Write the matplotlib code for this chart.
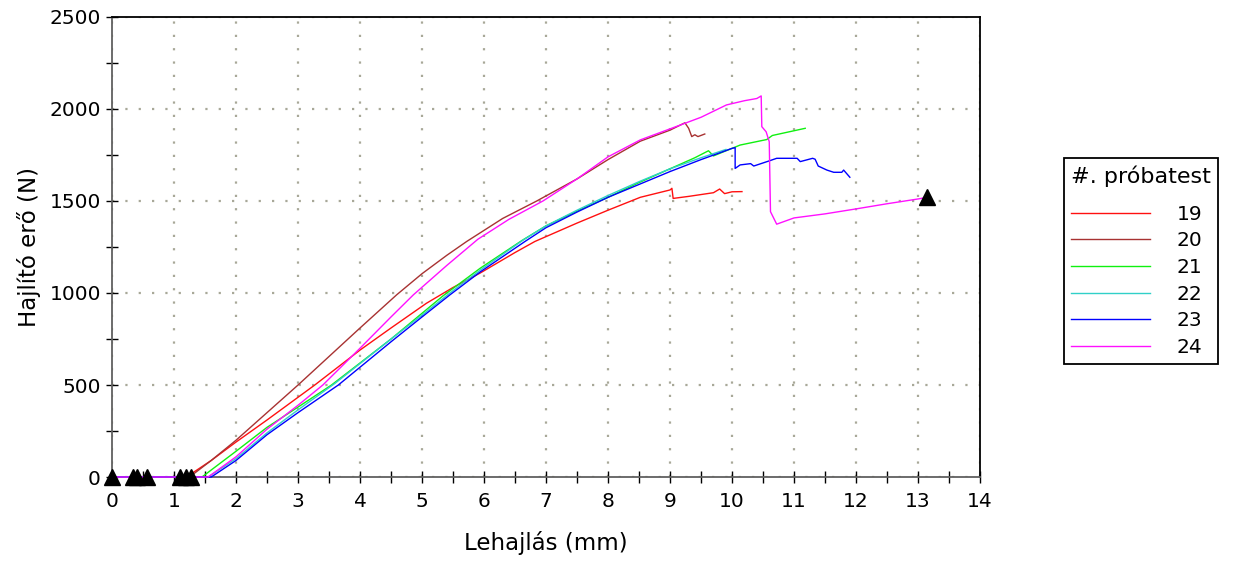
import matplotlib
matplotlib.use("Agg")
import matplotlib.pyplot as plt
from matplotlib.ticker import MultipleLocator

# próbatest sorszámok és színek
labels = ["19", "20", "21", "22", "23", "24"]
colors = ["#ff1010", "#a83232", "#10f010", "#30d0c8", "#0000ff", "#ff10ff"]

# Lehajlás (mm) / Hajlító erő (N) - leolvasott pontok
x19 = [0, 1.2, 1.6, 2.0, 2.5, 3.27, 4.0, 4.5, 5.07, 5.5, 5.94, 6.5, 6.82, 7.5, 8.0, 8.52, 9.0, 9.03,
       9.05, 9.3, 9.7, 9.8, 9.88, 10.0, 10.16]
y19 = [0, 0, 90, 190, 310, 500, 690, 810, 944, 1030, 1109, 1220, 1280, 1380, 1450, 1520, 1560, 1569,
       1514, 1525, 1545, 1565, 1540, 1550, 1551]

x20 = [0, 1.25, 1.6, 2.0, 2.5, 3.0, 3.5, 4.0, 4.59, 5.0, 5.4, 5.72, 6.3, 6.85, 7.5, 8.0, 8.52, 9.0,
       9.24, 9.3, 9.35, 9.4, 9.45, 9.56]
y20 = [0, 0, 90, 200, 350, 500, 655, 810, 990, 1105, 1205, 1280, 1405, 1500, 1620, 1725, 1825, 1885,
       1925, 1895, 1850, 1860, 1850, 1864]

x21 = [0, 1.45, 2.0, 2.5, 3.0, 3.54, 4.5, 5.34, 5.94, 6.61, 7.0, 7.5, 8.0, 8.5, 9.0, 9.4, 9.62, 9.7,
       10.13, 10.56, 10.65, 11.18]
y21 = [0, 0, 140, 270, 380, 500, 750, 985, 1135, 1285, 1365, 1445, 1520, 1600, 1675, 1735, 1773, 1745,
       1804, 1834, 1856, 1895]

x22 = [0, 1.55, 2.0, 2.5, 3.0, 3.6, 4.5, 5.0, 5.45, 5.94, 6.64, 7.0, 7.5, 8.0, 8.5, 9.0, 9.5, 9.9]
y22 = [0, 0, 100, 240, 365, 510, 750, 880, 1000, 1125, 1290, 1365, 1450, 1530, 1605, 1675, 1735, 1780]

x23 = [0, 1.6, 2.0, 2.5, 3.0, 3.65, 4.5, 5.0, 5.45, 5.94, 6.66, 7.0, 7.5, 8.0, 8.5, 9.0, 9.5, 10.0,
       10.05, 10.05, 10.13, 10.3, 10.35, 10.6, 10.72, 11.05, 11.1, 11.3, 11.34, 11.39, 11.53, 11.64,
       11.77, 11.8, 11.9]
y23 = [0, 0, 90, 230, 350, 500, 735, 870, 990, 1115, 1280, 1355, 1440, 1520, 1590, 1660, 1725, 1786,
       1790, 1677, 1696, 1703, 1690, 1718, 1732, 1732, 1714, 1732, 1727, 1690, 1668, 1656, 1656, 1668,
       1629]

x24 = [0, 1.55, 2.0, 2.5, 3.0, 3.4, 4.0, 4.5, 4.86, 5.4, 5.9, 6.4, 6.95, 7.5, 8.0, 8.52, 9.0, 9.5,
       9.91, 10.2, 10.4, 10.47, 10.48, 10.55, 10.6, 10.62, 10.72, 11.0, 11.5, 12.0, 12.5, 13.0, 13.15]
y24 = [0, 0, 110, 260, 390, 500, 700, 870, 990, 1150, 1292, 1400, 1500, 1620, 1740, 1832, 1892, 1955,
       2022, 2045, 2057, 2071, 1904, 1876, 1822, 1442, 1374, 1408, 1430, 1457, 1485, 1511, 1520]

series_x = [x19, x20, x21, x22, x23, x24]
series_y = [y19, y20, y21, y22, y23, y24]

# jelölők (háromszögek)
mark_x = [0, 0.33, 0.40, 0.56, 1.10, 1.19, 1.28, 13.15]
mark_y = [0, 0, 0, 0, 0, 0, 0, 1520]

fig = plt.figure(figsize=(12.34, 5.68), dpi=100)
ax = fig.add_axes([0.0908, 0.1602, 0.7034, 0.8099])

for xs, ys, c, lab in zip(series_x, series_y, colors, labels):
    ax.plot(xs, ys, color=c, lw=1.0, label=lab, clip_on=False, zorder=3)

ax.plot(mark_x, mark_y, linestyle="none", marker="^", color="black",
        markersize=11.5, clip_on=False, zorder=5)

ax.set_xlim(0, 14)
ax.set_ylim(0, 2500)
ax.xaxis.set_major_locator(MultipleLocator(1))
ax.xaxis.set_minor_locator(MultipleLocator(0.5))
ax.yaxis.set_major_locator(MultipleLocator(500))
ax.yaxis.set_minor_locator(MultipleLocator(250))
ax.tick_params(which="both", direction="inout", length=9, width=1.0, labelsize=14.5)
ax.tick_params(axis="x", pad=6)

ax.grid(True, which="major", color="#a8a898", linestyle=(0, (1, 5)), linewidth=1.6)

for s in ["left", "bottom"]:
    ax.spines[s].set_color("#606060")
for s in ["top", "right"]:
    ax.spines[s].set_color("black")
for s in ax.spines.values():
    s.set_linewidth(1.3)

ax.set_xlabel("Lehajlás (mm)", fontsize=16.5, labelpad=15)
ax.set_ylabel("Hajlító erő (N)", fontsize=16.5, labelpad=6)

leg = fig.legend(loc="upper left", bbox_to_anchor=(0.8622, 0.7218), title="#. próbatest",
                 fontsize=14.5, title_fontsize=16, handlelength=3.93, handletextpad=1.3,
                 labelspacing=0.38, fancybox=False, edgecolor="black", framealpha=1,
                 borderpad=0.35, borderaxespad=0, alignment="left")
leg.get_frame().set_linewidth(1.3)
# nagyobb hely a cím alatt
leg._legend_box.sep = leg._legend_box.sep + 7.5

fig.savefig("out.png", dpi=100)
